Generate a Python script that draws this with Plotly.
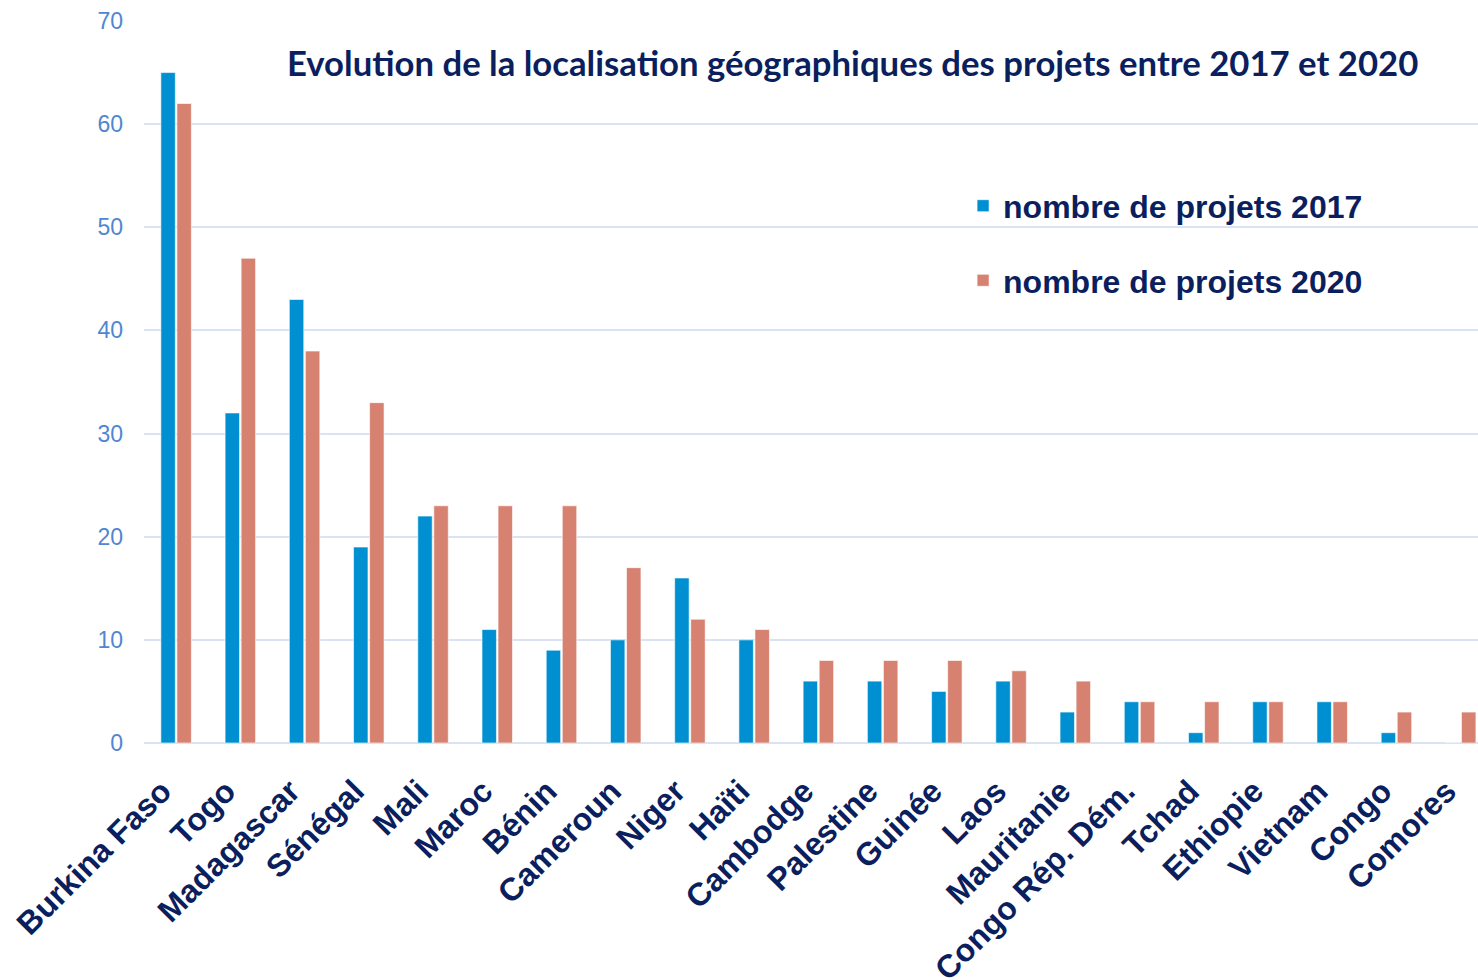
import plotly.graph_objects as go

countries = ["Burkina Faso", "Togo", "Madagascar", "Sénégal", "Mali", "Maroc", "Bénin",
             "Cameroun", "Niger", "Haïti", "Cambodge", "Palestine", "Guinée", "Laos",
             "Mauritanie", "Congo Rép. Dém.", "Tchad", "Ethiopie", "Vietnam", "Congo", "Comores"]
projets_2017 = [65, 32, 43, 19, 22, 11, 9, 10, 16, 10, 6, 6, 5, 6, 3, 4, 1, 4, 4, 1, 0]
projets_2020 = [62, 47, 38, 33, 23, 23, 23, 17, 12, 11, 8, 8, 8, 7, 6, 4, 4, 4, 4, 3, 3]

navy = "#0b1f5e"

fig = go.Figure()
fig.add_trace(go.Bar(x=countries, y=projets_2017, name="nombre de projets 2017",
                     legendgroup="a",
                     marker=dict(color="#0090d2", line=dict(color="rgba(255,255,255,0.6)", width=1))))
fig.add_trace(go.Bar(x=countries, y=projets_2020, name="nombre de projets 2020",
                     legendgroup="b",
                     marker=dict(color="#d78271", line=dict(color="rgba(255,255,255,0.6)", width=1))))

fig.update_layout(
    width=1478, height=980,
    margin=dict(l=144, r=0, t=21, b=237),
    plot_bgcolor="white", paper_bgcolor="white",
    barmode="group", bargap=0.5, bargroupgap=0.1,
    showlegend=True,
    legend=dict(x=0.614, y=0.782, xanchor="left", yanchor="top",
                font=dict(family="Liberation Sans", size=32, color=navy, weight="bold"),
                tracegroupgap=30, bgcolor="rgba(0,0,0,0)"),
    annotations=[dict(text="Evolution de la localisation géographiques des projets entre 2017 et 2020",
                      xref="paper", yref="paper", x=0.106, y=0.943, xanchor="left", yanchor="middle",
                      showarrow=False,
                      font=dict(family="Lato", size=34.7, color=navy, weight="bold"))],
)

# last category is cut at the right edge, like in the original
fig.update_xaxes(range=[-0.5, 20.27], tickangle=-45, showgrid=False, showline=False,
                 automargin=False, ticklabelstandoff=22, ticklabelshift=-14,
                 tickfont=dict(family="Liberation Sans", size=32, color=navy, weight="bold"))
fig.update_yaxes(range=[0, 70], dtick=10, showgrid=True, gridcolor="#d9e3f3", gridwidth=1.5,
                 zeroline=True, zerolinecolor="#d9e3f3", zerolinewidth=1.5, showline=False,
                 automargin=False, ticklabelstandoff=20,
                 tickfont=dict(family="Liberation Sans", size=23, color="#4f87d1"))

# drop the default body margin so the figure fills the window
fig.write_html("out.html", config={"displayModeBar": False},
               post_script="document.body.style.margin='0';document.body.style.overflow='hidden';")
